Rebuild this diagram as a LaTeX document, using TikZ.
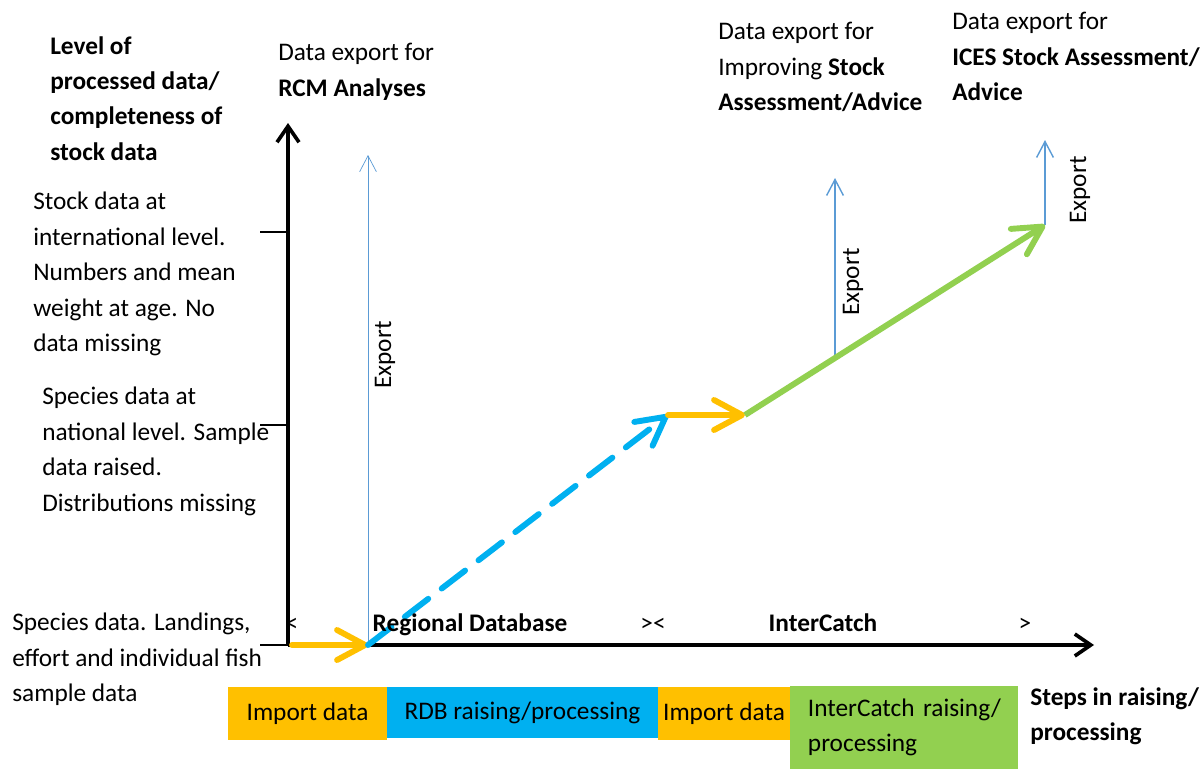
\documentclass[tikz,border=0pt]{standalone}
\usepackage{fontspec}
\setmainfont{Carlito}
\usetikzlibrary{arrows.meta}
\definecolor{importorange}{HTML}{FFC000}
\definecolor{rdbblue}{HTML}{00B0F0}
\definecolor{icgreen}{HTML}{92D050}
\definecolor{exportblue}{HTML}{5B9BD5}
\newcommand{\txtfont}{\fontsize{18}{25.2}\selectfont}
\tikzstyle{txt} = [
    anchor = north west,
    align = left,
    inner sep = 0pt,
    font = \txtfont,
]
\tikzstyle{axistxt} = [
    anchor = base,
    inner sep = 0pt,
    font = \txtfont,
]
\tikzstyle{stepbox} = [
    rectangle,
    inner sep = 0pt,
    text centered,
    font = \txtfont,
]
\tikzstyle{axis} = [line width = 2.6pt, -{Straight Barb[length=0.4cm, width=0.55cm]}]
\tikzstyle{tick} = [line width = 1.3pt]
\tikzstyle{export} = [exportblue, line width = 1pt, -{Straight Barb[length=0.4cm, width=0.42cm]}]
\tikzstyle{move} = [line width = 4.2pt, line cap = round, -{Straight Barb[round, length=0.7cm, width=0.75cm]}]

\begin{document}
\begin{tikzpicture} [x = 0.025cm, y = -0.025cm]
    \useasboundingbox (0,0) rectangle (1201,769);

    % points of the raising chain
    \coordinate (O) at (288,645);
    \coordinate (ytop) at (288,123);
    \coordinate (xend) at (1094,645);
    \coordinate (rdbstart) at (368,645);
    \coordinate (rdbend) at (668,415);
    \coordinate (icstart) at (745,415);
    \coordinate (icmid) at (835,358);
    \coordinate (icend) at (1045,225);
    \coordinate (rcmtop) at (368,155);
    \coordinate (improvetop) at (835,178);
    \coordinate (icestop) at (1045,140);

    % axes and ticks
    \draw[axis] (O) -- (ytop);
    \draw[axis] (O) -- (xend);
    \foreach \y in {232, 425, 645}
        \draw[tick] (260,\y) -- (288,\y);

    % export arrows
    \draw[export, line width = 0.5pt] (rdbstart) -- (rcmtop);
    \draw[export] (icmid) -- (improvetop);
    \draw[export] (icend) -- (icestop);
    \node (exp1) [rotate = 90, font = \txtfont] at (385,355) {Export};
    \node (exp2) [rotate = 90, font = \txtfont] at (853,282) {Export};
    \node (exp3) [rotate = 90, font = \txtfont] at (1080,190) {Export};

    % raising steps
    \draw[move, importorange] (292,645) -- (rdbstart);
    \draw[move, rdbblue, dash pattern = on 21pt off 12pt] (rdbstart) -- (rdbend);
    \draw[move, importorange] (rdbend) -- (icstart);
    \draw[move, icgreen, line cap = butt] (icstart) -- (icend);

    % texts on the axis
    \node (lt) [axistxt] at (292,631) {<};
    \node (rdb) [axistxt, font = \txtfont\bfseries] at (470,631) {Regional Database};
    \node (gtlt) [axistxt] at (653,631) {><};
    \node (intercatch) [axistxt, font = \txtfont\bfseries] at (823,631) {InterCatch};
    \node (gt) [axistxt] at (1025,631) {>};

    % level texts
    \node (level) [txt, font = \txtfont\bfseries] at (50,36) {Level of\\processed data/\\completeness of\\stock data};
    \node (stock) [txt] at (33,192) {Stock data at\\international level.\\Numbers and mean\\weight at age. No\\data missing};
    \node (national) [txt] at (42,387) {Species data at\\national level. Sample\\data raised.\\Distributions missing};
    \node (species) [txt] at (12,613) {Species data. Landings,\\effort and individual fish\\sample data};

    % export targets
    \node (rcm) [txt] at (278,43) {Data export for\\\textbf{RCM Analyses}};
    \node (improve) [txt] at (718,22) {Data export for\\Improving \textbf{Stock}\\\textbf{Assessment/Advice}};
    \node (ices) [txt] at (952,12) {Data export for\\\textbf{ICES Stock Assessment/}\\\textbf{Advice}};

    % steps in raising
    \node (import1) [stepbox, fill = importorange, minimum width = 3.975cm, minimum height = 1.325cm] at (307.5,713.5) {Import data};
    \node (rdbstep) [stepbox, fill = rdbblue, minimum width = 6.775cm, minimum height = 1.275cm] at (522.5,712.5) {RDB raising/processing};
    \node (import2) [stepbox, fill = importorange, minimum width = 3.3cm, minimum height = 1.325cm] at (724,713.5) {Import data};
    \node (icstep) [stepbox, fill = icgreen, minimum width = 5.7cm, minimum height = 2.075cm, align = left, text width = 4.8cm, inner xsep = 0.45cm] at (904,727.5) {InterCatch raising/\\processing};
    \node (steps) [txt, font = \txtfont\bfseries] at (1030,687) {Steps in raising/\\processing};
\end{tikzpicture}
\end{document}
